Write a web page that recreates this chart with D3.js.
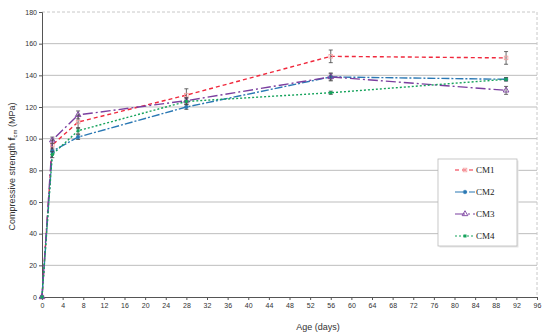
<!DOCTYPE html>
<html>
<head>
<meta charset="utf-8">
<script src="https://cdn.jsdelivr.net/npm/d3@7"></script>
<style>
  body { margin: 0; background: #fff; }
  svg { display: block; font-family: Arial, "Liberation Sans", sans-serif; }
  .tick text { fill: #333; font-size: 7px; }
</style>
</head>
<body>
<div id="chart"></div>
<script>
// Data
var days = [0, 2, 7, 28, 56, 90];
var seriesNames = ["CM1", "CM2", "CM3", "CM4"];
var cm1 = [0, 96, 110.5, 127.5, 152, 151];
var cm2 = [0, 92, 101, 120, 139, 137.5];
var cm3 = [0, 99, 115, 124, 139, 130.5];
var cm4 = [0, 90, 105, 123.5, 129, 137.5];
var cm1Err = [0, 3, 4, 4, 4, 4];
var cm2Err = [0, 2, 1.5, 1.5, 2.5, 1];
var cm3Err = [0, 2, 2.5, 2, 2, 2.5];
var cm4Err = [0, 2, 2, 2, 1, 1];
var xTicks = d3.range(0, 97, 4);
var yTicks = d3.range(0, 181, 20);

var width = 550, height = 336;
var margin = {top: 12, right: 13, bottom: 39, left: 42};
var w = width - margin.left - margin.right,
    h = height - margin.top - margin.bottom;

var styles = {
    CM1: {color: "#f0283c", dash: "4,3", marker: "square"},
    CM2: {color: "#2a78b4", dash: "8,2,2,2", marker: "circle"},
    CM3: {color: "#7b3f9f", dash: "10,3,2,3", marker: "triangle"},
    CM4: {color: "#16a35c", dash: "2,2", marker: "cross"}
};

var series = [
    {name: "CM1", vals: cm1, err: cm1Err},
    {name: "CM2", vals: cm2, err: cm2Err},
    {name: "CM3", vals: cm3, err: cm3Err},
    {name: "CM4", vals: cm4, err: cm4Err}
];

var xScale = d3.scaleLinear().domain([0, 96]).range([0, w]);
var yScale = d3.scaleLinear().domain([0, 180]).range([h, 0]);

var svg = d3.select("#chart").append("svg")
    .attr("width", width)
    .attr("height", height)
  .append("g")
    .attr("transform", "translate(" + margin.left + "," + margin.top + ")");

// gridlines
svg.selectAll(".grid")
    .data(yTicks.filter(function(d) { return d > 0 && d < 180; }))
    .enter().append("line")
    .attr("x1", 0).attr("x2", w)
    .attr("y1", function(d) { return yScale(d); })
    .attr("y2", function(d) { return yScale(d); })
    .attr("stroke", "#bdbdbd")
    .attr("stroke-width", 1);

// dashed top / right frame
svg.append("path")
    .attr("d", "M0," + yScale(180) + "H" + w + "V" + h)
    .attr("fill", "none")
    .attr("stroke", "#c8c8c8")
    .attr("stroke-dasharray", "3,2");

// axes
var xAxis = d3.axisBottom(xScale).tickValues(xTicks).tickSize(3).tickPadding(3);
var yAxis = d3.axisLeft(yScale).tickValues(yTicks).tickSize(3).tickPadding(2);

var gx = svg.append("g")
    .attr("transform", "translate(0," + h + ")")
    .call(xAxis);
var gy = svg.append("g").call(yAxis);
[gx, gy].forEach(function(g) {
    g.select(".domain").attr("stroke", "#555");
    g.selectAll(".tick line").attr("stroke", "#555");
});

svg.append("text")
    .attr("x", 276)
    .attr("y", h + 33)
    .attr("text-anchor", "middle")
    .attr("font-size", "9px")
    .attr("fill", "#333")
    .text("Age (days)");

var yLab = svg.append("text")
    .attr("transform", "translate(-27," + (h / 2 + 12) + ") rotate(-90)")
    .attr("text-anchor", "middle")
    .attr("font-size", "9px")
    .attr("fill", "#333");
yLab.append("tspan").text("Compressive strength ");
yLab.append("tspan").attr("font-weight", "bold").text("f");
yLab.append("tspan").attr("font-size", "6px").attr("dy", 2).text("cm");
yLab.append("tspan").attr("dy", -2).text(" (MPa)");

// lines
var line = d3.line()
    .x(function(d, i) { return xScale(days[i]); })
    .y(function(d) { return yScale(d); });

svg.selectAll(".series")
    .data(series)
    .enter().append("path")
    .attr("d", function(s) { return line(s.vals); })
    .attr("fill", "none")
    .attr("stroke", function(s) { return styles[s.name].color; })
    .attr("stroke-width", 1.4)
    .attr("stroke-dasharray", function(s) { return styles[s.name].dash; });

function drawMarker(g, type, color, x, y) {
    if (type === "square") {
        g.append("rect").attr("x", x - 1.8).attr("y", y - 1.8).attr("width", 3.6).attr("height", 3.6)
            .attr("fill", "none").attr("stroke", "#f4a0a0").attr("stroke-width", 0.8);
    } else if (type === "circle") {
        g.append("circle").attr("cx", x).attr("cy", y).attr("r", 1.8)
            .attr("fill", color).attr("stroke", color).attr("stroke-width", 0.6);
    } else if (type === "triangle") {
        g.append("path").attr("d", d3.symbol(d3.symbolTriangle, 14)())
            .attr("transform", "translate(" + x + "," + y + ")")
            .attr("fill", "none").attr("stroke", color).attr("stroke-width", 0.9);
    } else {
        g.append("rect").attr("x", x - 1.5).attr("y", y - 1.5).attr("width", 3).attr("height", 3)
            .attr("fill", color);
    }
}

// error bars + markers
series.forEach(function(s) {
    var g = svg.append("g");
    var st = styles[s.name];
    s.vals.forEach(function(v, i) {
        var x = xScale(days[i]);
        if (s.err[i] > 0) {
            var y1 = yScale(v - s.err[i]), y2 = yScale(v + s.err[i]);
            g.append("line").attr("x1", x).attr("x2", x).attr("y1", y1).attr("y2", y2)
                .attr("stroke", "#444").attr("stroke-width", 0.8);
            g.append("line").attr("x1", x - 2).attr("x2", x + 2).attr("y1", y1).attr("y2", y1)
                .attr("stroke", "#444").attr("stroke-width", 0.8);
            g.append("line").attr("x1", x - 2).attr("x2", x + 2).attr("y1", y2).attr("y2", y2)
                .attr("stroke", "#444").attr("stroke-width", 0.8);
        }
        drawMarker(g, st.marker, st.color, x, yScale(v));
    });
});

// legend
var legX = 438 - margin.left, legY = 159 - margin.top;
var leg = svg.append("g").attr("transform", "translate(" + legX + "," + legY + ")");
leg.append("rect")
    .attr("x", 1.5).attr("y", 1.5).attr("width", 79).attr("height", 87)
    .attr("fill", "#e6e6e6");
leg.append("rect")
    .attr("width", 79).attr("height", 87)
    .attr("fill", "#fff").attr("stroke", "#bbb").attr("stroke-width", 0.8);

seriesNames.forEach(function(name, i) {
    var st = styles[name];
    var y = 11 + i * 22;
    leg.append("line")
        .attr("x1", 17).attr("x2", 37).attr("y1", y).attr("y2", y)
        .attr("stroke", st.color).attr("stroke-width", 1.2)
        .attr("stroke-dasharray", st.dash);
    drawMarker(leg, st.marker, st.color, 27, y);
    leg.append("text")
        .attr("x", 38).attr("y", y + 3)
        .attr("font-family", "'Liberation Serif', 'Times New Roman', serif")
        .attr("font-size", "9px")
        .attr("fill", "#222")
        .text(name);
});
</script>
</body>
</html>
